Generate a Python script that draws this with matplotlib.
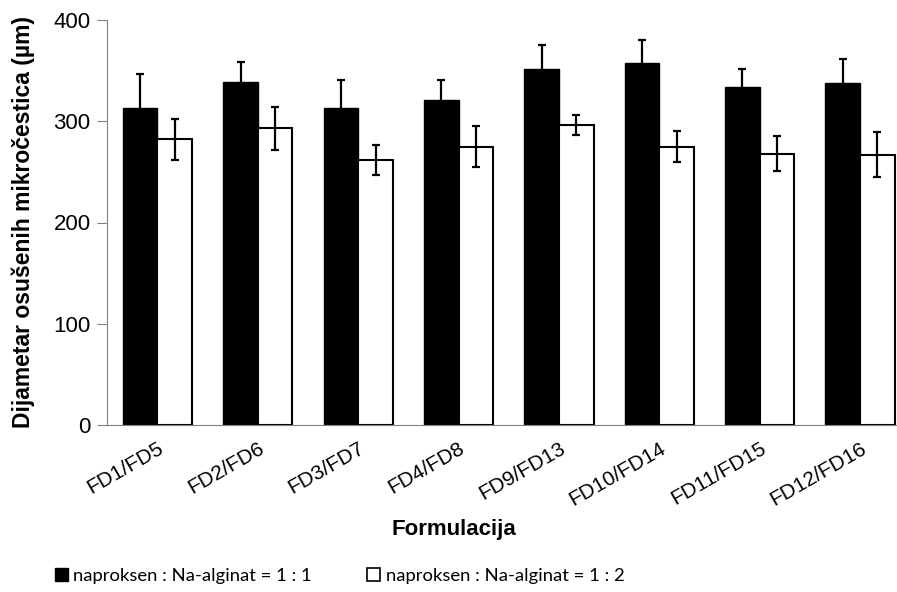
import matplotlib
matplotlib.use('Agg')
import matplotlib.pyplot as plt
import numpy as np
from matplotlib.patches import Patch

# data
categories = ['FD1/FD5', 'FD2/FD6', 'FD3/FD7', 'FD4/FD8', 'FD9/FD13', 'FD10/FD14', 'FD11/FD15', 'FD12/FD16']
ratio_1_1 = [313, 339, 313, 321, 352, 358, 334, 338]
ratio_1_1_err = [34, 20, 28, 20, 23, 22, 18, 23]
ratio_1_2 = [282, 293, 262, 275, 296, 275, 268, 267]
ratio_1_2_err = [20, 21, 15, 20, 10, 15, 17, 22]
series_labels = ['naproksen : Na-alginat = 1 : 1', 'naproksen : Na-alginat = 1 : 2']

plt.rcParams['font.family'] = ['Liberation Sans', 'DejaVu Sans']

fig = plt.figure(figsize=(8.97, 5.92), dpi=100)
# plot area is cropped on the right in the original, so let it run past the edge
ax = fig.add_axes([107.3 / 897, 167 / 592, 803 / 897, 405 / 592])

index = np.arange(len(categories))
bar_width = 0.345
err_style = dict(ecolor='black', elinewidth=1.6, capsize=3, capthick=1.6)

ax.bar(index - bar_width / 2, ratio_1_1, width=bar_width, color='black', edgecolor='black',
       yerr=ratio_1_1_err, error_kw=err_style)
ax.bar(index + bar_width / 2, ratio_1_2, width=bar_width, color='white', edgecolor='black', linewidth=1.5,
       yerr=ratio_1_2_err, error_kw=err_style)

ax.set_xlim(-0.5, len(categories) - 0.5)
ax.set_ylim(0, 400)
ax.set_yticks([0, 100, 200, 300, 400])

for side in ['top', 'right']:
    ax.spines[side].set_visible(False)
ax.spines['left'].set_color('#808080')
ax.spines['bottom'].set_color('#808080')
ax.tick_params(axis='y', direction='out', length=7, color='#808080', labelsize=16, pad=5)
ax.tick_params(axis='x', length=0, labelsize=15, pad=10)
ax.set_xticks(index)
ax.set_xticklabels(categories, rotation=30, ha='right', rotation_mode='anchor')

ax.set_ylabel('Dijametar osušenih mikročestica (µm)', fontsize=16.5, fontweight='bold', labelpad=13)
fig.text(454 / 897, 1 - 530 / 592, 'Formulacija', fontsize=16, fontweight='bold', ha='center', va='center')

handles = [Patch(facecolor='black', edgecolor='black'),
           Patch(facecolor='white', edgecolor='black', linewidth=1.2)]
fig.legend(handles, series_labels, loc='center left', bbox_to_anchor=(38 / 897, 1 - 576 / 592),
           ncol=2, frameon=False, handlelength=0.7, handleheight=0.7, handletextpad=0.3,
           columnspacing=3.0, prop={'family': 'Lato', 'size': 13.3})

fig.savefig('out.png', dpi=100)
